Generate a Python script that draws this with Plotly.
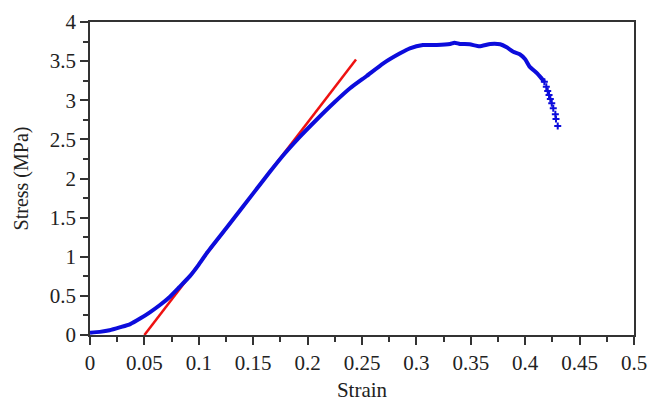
import plotly.graph_objects as go


strain = [0.0, 0.009, 0.018, 0.028, 0.037, 0.046, 0.055, 0.064, 0.0735,
          0.082, 0.092, 0.1, 0.107, 0.125, 0.15, 0.165, 0.179, 0.1915,
          0.208, 0.2237, 0.239, 0.2543, 0.2696, 0.285, 0.294, 0.306,
          0.3187, 0.331, 0.335, 0.340, 0.349, 0.358, 0.368, 0.377, 0.383,
          0.389, 0.395, 0.400, 0.404, 0.411, 0.415, 0.4176, 0.4194, 0.4207,
          0.4219, 0.4231, 0.4244, 0.4258, 0.4277, 0.4283, 0.4299]
stress = [0.03, 0.04, 0.06, 0.1, 0.14, 0.21, 0.29, 0.38, 0.49,
          0.61, 0.755, 0.9, 1.04, 1.36, 1.81, 2.08, 2.32, 2.514,
          2.748, 2.961, 3.153, 3.31, 3.472, 3.6, 3.664, 3.706,
          3.706, 3.719, 3.735, 3.72, 3.715, 3.69, 3.72, 3.715, 3.676,
          3.62, 3.587, 3.523, 3.43, 3.344, 3.28, 3.238, 3.174, 3.118,
          3.067, 3.016, 2.961, 2.897, 2.82, 2.76, 2.671]

# Linear fit (elastic region)
fit_strain = [0.05, 0.2445]
fit_stress = [0.0, 3.52]

font = "Liberation Serif"

fig = go.Figure()

fig.add_trace(go.Scatter(
    x=fit_strain,
    y=fit_stress,
    mode="lines",
    line=dict(color="#ee1111", width=2.5),
    showlegend=False
))

fig.add_trace(go.Scatter(
    x=strain[:-9],
    y=stress[:-9],
    mode="lines",
    line=dict(color="#0c0cdc", width=4, shape="spline", smoothing=0.5),
    showlegend=False
))

# sparse tail of the data shown as separate markers
fig.add_trace(go.Scatter(
    x=strain[-10:],
    y=stress[-10:],
    mode="markers",
    marker=dict(symbol="cross-thin", size=5,
                line=dict(color="#0c0cdc", width=2)),
    showlegend=False
))

# page body adds an 8px offset, so size the figure to fit the window
fig.update_layout(
    width=654,
    height=406,
    margin=dict(l=82, r=28, t=14, b=79),
    paper_bgcolor="white",
    plot_bgcolor="white",
    font=dict(family=font, size=21, color="#222")
)

fig.update_xaxes(
    range=[0, 0.5],
    tick0=0,
    dtick=0.05,
    ticks="outside",
    ticklen=8,
    tickwidth=1.5,
    tickcolor="#333",
    minor=dict(ticks="outside", ticklen=5, tickwidth=1.5,
               tickcolor="#333", dtick=0.025),
    showline=True,
    linecolor="#333",
    linewidth=1.5,
    mirror=True,
    showgrid=False,
    zeroline=False,
    automargin=False,
    title=dict(text="Strain", font=dict(size=21), standoff=8)
)

fig.update_yaxes(
    range=[0, 4],
    tick0=0,
    dtick=0.5,
    ticks="outside",
    ticklen=8,
    tickwidth=1.5,
    tickcolor="#333",
    minor=dict(ticks="outside", ticklen=5, tickwidth=1.5,
               tickcolor="#333", dtick=0.25),
    showline=True,
    linecolor="#333",
    linewidth=1.5,
    mirror=True,
    showgrid=False,
    zeroline=False,
    automargin=False,
    title=dict(text="Stress (MPa)", font=dict(size=20), standoff=16)
)

fig.write_html("out.html")
